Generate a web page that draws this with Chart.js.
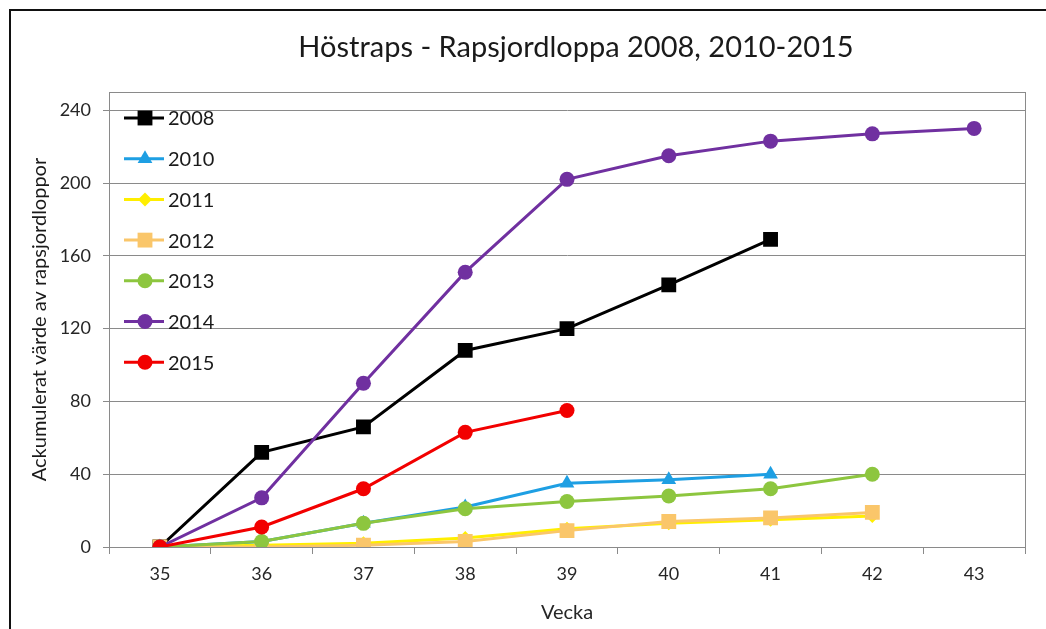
<!DOCTYPE html>
<html>
<head>
<meta charset="utf-8">
<script src="https://cdn.jsdelivr.net/npm/chart.js@4/dist/chart.umd.min.js"></script>
<style>
  html, body { margin: 0; padding: 0; background: #fff; }
  #wrap { position: relative; width: 1046px; height: 629px; overflow: hidden; }
  #frame { position: absolute; left: 9px; top: 9px; right: -10px; bottom: -10px;
           border-left: 2px solid #111; border-top: 2px solid #111; }
  canvas { position: absolute; left: 0; top: 0; }
</style>
</head>
<body>
<div id="wrap">
  <div id="frame"></div>
  <canvas id="chart" width="1046" height="629"></canvas>
</div>
<script>
// chart data
const weeks  = ["35", "36", "37", "38", "39", "40", "41", "42", "43"];
const years  = ["2008", "2010", "2011", "2012", "2013", "2014", "2015"];
const y2008  = [0, 52, 66, 108, 120, 144, 169];
const y2010  = [0, 3, 13, 22, 35, 37, 40];
const y2011  = [0, 1, 2, 5, 10, 13, 15, 17];
const y2012  = [0, 0, 1, 3, 9, 14, 16, 19];
const y2013  = [0, 3, 13, 21, 25, 28, 32, 40];
const y2014  = [0, 27, 90, 151, 202, 215, 223, 227, 230];
const y2015  = [0, 11, 32, 63, 75];
const yTicks = [0, 40, 80, 120, 160, 200, 240];

const TITLE  = "Höstraps - Rapsjordloppa 2008, 2010-2015";
const FONT   = "Lato, 'Open Sans', sans-serif";
const GRID   = "#8a8a8a";
const TEXT   = "#262626";

const series = [
  { data: y2008, color: "#000000", style: "rect",     r: 10.5 },
  { data: y2010, color: "#1e9fe3", style: "triangle", r: 8.5 },
  { data: y2011, color: "#ffee00", style: "rectRot",  r: 7 },
  { data: y2012, color: "#fac66a", style: "rect",     r: 10.5 },
  { data: y2013, color: "#8dc63f", style: "circle",   r: 7.5 },
  { data: y2014, color: "#7030a0", style: "circle",   r: 7.5 },
  { data: y2015, color: "#f20000", style: "circle",   r: 7.5 }
];

// simple marker painter, used for the legend
function marker(ctx, style, r, x, y) {
  ctx.beginPath();
  if (style === "circle") {
    ctx.arc(x, y, r, 0, Math.PI * 2);
  } else if (style === "rect") {
    const s = r * Math.SQRT1_2;
    ctx.rect(x - s, y - s, 2 * s, 2 * s);
  } else if (style === "rectRot") {
    ctx.moveTo(x, y - r); ctx.lineTo(x + r, y); ctx.lineTo(x, y + r); ctx.lineTo(x - r, y);
    ctx.closePath();
  } else if (style === "triangle") {
    const w = r * Math.sqrt(3) / 2;
    ctx.moveTo(x, y - r); ctx.lineTo(x + w, y + r / 2); ctx.lineTo(x - w, y + r / 2);
    ctx.closePath();
  }
  ctx.fill();
}

const decor = {
  id: "decor",
  beforeDatasetsDraw(chart) {
    const { ctx, chartArea: a } = chart;
    ctx.save();
    ctx.strokeStyle = GRID;
    ctx.lineWidth = 1;
    ctx.strokeRect(Math.round(a.left) + 0.5, Math.round(a.top) + 0.5,
                   Math.round(a.right - a.left), Math.round(a.bottom - a.top));
    ctx.restore();
  },
  afterDraw(chart) {
    const ctx = chart.ctx;
    ctx.save();
    // title
    ctx.fillStyle = "#1a1a1a";
    ctx.font = "29px " + FONT;
    ctx.textAlign = "center";
    ctx.textBaseline = "middle";
    ctx.fillText(TITLE, 576, 48);
    // legend inside the plot
    ctx.font = "20px " + FONT;
    ctx.textAlign = "left";
    chart.data.datasets.forEach((ds, i) => {
      const y = 118 + i * 40.7;
      ctx.strokeStyle = ds.borderColor;
      ctx.lineWidth = 3;
      ctx.beginPath();
      ctx.moveTo(124, y);
      ctx.lineTo(164, y);
      ctx.stroke();
      ctx.fillStyle = ds.borderColor;
      marker(ctx, ds.pointStyle, ds.pointRadius, 145, y);
      ctx.fillStyle = "#1a1a1a";
      ctx.fillText(ds.label, 168, y + 1);
    });
    ctx.restore();
  }
};

const ctx = document.getElementById("chart").getContext("2d");
new Chart(ctx, {
  type: "line",
  data: {
    labels: weeks,
    datasets: series.map((s, i) => ({
      label: years[i],
      data: s.data,
      borderColor: s.color,
      backgroundColor: s.color,
      pointBackgroundColor: s.color,
      pointBorderColor: s.color,
      pointBorderWidth: 0,
      borderWidth: 3,
      pointStyle: s.style,
      pointRadius: s.r,
      tension: 0,
      order: series.length - i
    }))
  },
  options: {
    responsive: false,
    animation: false,
    devicePixelRatio: 1,
    layout: { padding: { left: 28, right: 21, top: 92, bottom: 4 } },
    plugins: {
      legend: { display: false },
      title: { display: false },
      tooltip: { enabled: false }
    },
    scales: {
      x: {
        type: "category",
        offset: true,
        afterFit: s => { s.height = 78; },
        grid: { offset: true, drawOnChartArea: false, drawTicks: true, tickLength: 7, color: GRID },
        border: { color: GRID, width: 1 },
        ticks: { color: TEXT, font: { family: FONT, size: 18 }, padding: 9, maxRotation: 0, autoSkip: false },
        title: { display: true, text: "Vecka", color: TEXT, font: { family: FONT, size: 20 }, padding: 0 }
      },
      y: {
        min: 0,
        max: 250,
        bounds: "data",
        afterFit: s => { s.width = 81; },
        afterBuildTicks: s => { s.ticks = yTicks.map(v => ({ value: v })); },
        grid: { color: GRID, tickLength: 6, drawTicks: true },
        border: { color: GRID, width: 1 },
        ticks: { color: TEXT, font: { family: FONT, size: 18 }, padding: 12, stepSize: 40, includeBounds: false },
        title: { display: true, text: "Ackumulerat värde av rapsjordloppor", color: "#1a1a1a", font: { family: FONT, size: 20 }, padding: 0 }
      }
    }
  },
  plugins: [decor]
});
</script>
</body>
</html>
